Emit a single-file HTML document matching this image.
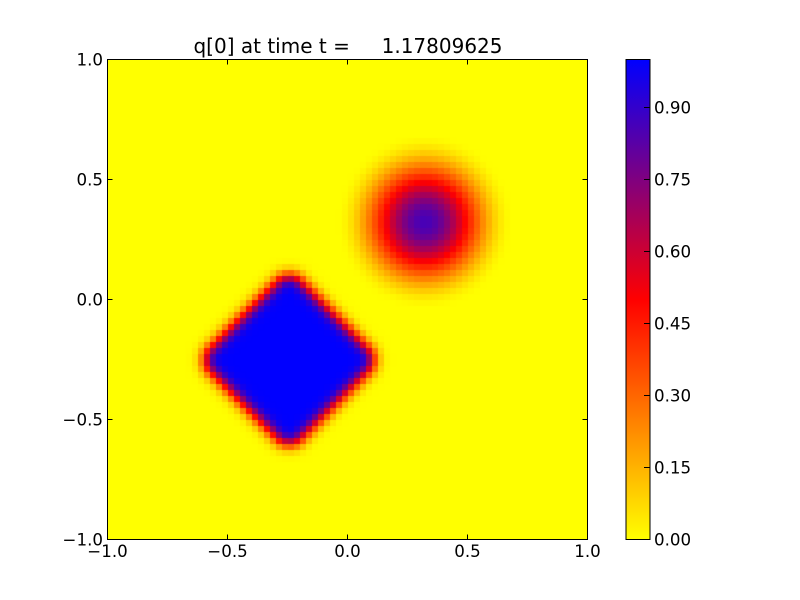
<!DOCTYPE html>
<html>
<head>
<meta charset="utf-8">
<style>
  html, body { margin: 0; padding: 0; background: #ffffff; }
  #wrap { position: relative; width: 800px; height: 600px; overflow: hidden; background: #ffffff; }
  #fallback, #overlay { position: absolute; left: 0; top: 0; }
  #c { position: absolute; left: 108px; top: 60px; width: 480px; height: 480px; }
  text { font-family: "DejaVu Sans", "Liberation Sans", sans-serif; fill: #000; }
</style>
</head>
<body>
<div id="wrap">
  <svg id="fallback" width="800" height="600" viewBox="0 0 800 600">
    <defs>
      <radialGradient id="bump" cx="424.5" cy="221.5" r="88" gradientUnits="userSpaceOnUse">
        <stop offset="0" stop-color="#3d00c2"/>
        <stop offset="0.2" stop-color="#7a0085"/>
        <stop offset="0.42" stop-color="#ff0000"/>
        <stop offset="0.65" stop-color="#ff7000"/>
        <stop offset="0.88" stop-color="#ffd800"/>
        <stop offset="1" stop-color="#ffff00"/>
      </radialGradient>
    </defs>
    <rect x="108" y="60" width="480" height="480" fill="#ffff00"/>
    <circle cx="424.5" cy="221.5" r="88" fill="url(#bump)"/>
    <g transform="translate(288.5,359.5) rotate(45)">
      <rect x="-64" y="-64" width="128" height="128" rx="18" ry="18" fill="#0000ff" stroke="#ff2000" stroke-width="8"/>
    </g>
  </svg>

  <canvas id="c" width="480" height="480"></canvas>

  <svg id="overlay" width="800" height="600" viewBox="0 0 800 600">
    <defs>
      <linearGradient id="cbar" x1="0" y1="1" x2="0" y2="0">
        <stop offset="0" stop-color="#ffff00"/>
        <stop offset="0.5" stop-color="#ff0000"/>
        <stop offset="1" stop-color="#0000ff"/>
      </linearGradient>
    </defs>

    <text x="348" y="53" font-size="20" text-anchor="middle" style="white-space:pre" xml:space="preserve">q[0] at time t =     1.17809625</text>

    <rect x="107.5" y="59.5" width="480" height="480" fill="none" stroke="#000" stroke-width="1"/>

    <g stroke="#000" stroke-width="1">
      <line x1="107.5" y1="539.5" x2="107.5" y2="534.5"/>
      <line x1="227.5" y1="539.5" x2="227.5" y2="534.5"/>
      <line x1="347.5" y1="539.5" x2="347.5" y2="534.5"/>
      <line x1="467.5" y1="539.5" x2="467.5" y2="534.5"/>
      <line x1="587.5" y1="539.5" x2="587.5" y2="534.5"/>
      <line x1="107.5" y1="59.5" x2="107.5" y2="64.5"/>
      <line x1="227.5" y1="59.5" x2="227.5" y2="64.5"/>
      <line x1="347.5" y1="59.5" x2="347.5" y2="64.5"/>
      <line x1="467.5" y1="59.5" x2="467.5" y2="64.5"/>
      <line x1="587.5" y1="59.5" x2="587.5" y2="64.5"/>
      <line x1="107.5" y1="59.5" x2="112.5" y2="59.5"/>
      <line x1="107.5" y1="179.5" x2="112.5" y2="179.5"/>
      <line x1="107.5" y1="299.5" x2="112.5" y2="299.5"/>
      <line x1="107.5" y1="419.5" x2="112.5" y2="419.5"/>
      <line x1="107.5" y1="539.5" x2="112.5" y2="539.5"/>
      <line x1="587.5" y1="59.5" x2="582.5" y2="59.5"/>
      <line x1="587.5" y1="179.5" x2="582.5" y2="179.5"/>
      <line x1="587.5" y1="299.5" x2="582.5" y2="299.5"/>
      <line x1="587.5" y1="419.5" x2="582.5" y2="419.5"/>
      <line x1="587.5" y1="539.5" x2="582.5" y2="539.5"/>
    </g>

    <g font-size="16.67" text-anchor="middle">
      <text x="107.5" y="557">−1.0</text>
      <text x="227.5" y="557">−0.5</text>
      <text x="347.5" y="557">0.0</text>
      <text x="467.5" y="557">0.5</text>
      <text x="587.5" y="557">1.0</text>
    </g>
    <g font-size="16.67" text-anchor="end">
      <text x="103" y="65.5">1.0</text>
      <text x="103" y="185.5">0.5</text>
      <text x="103" y="305.5">0.0</text>
      <text x="103" y="425.5">−0.5</text>
      <text x="103" y="545.5">−1.0</text>
    </g>

    <rect x="626" y="59.5" width="24" height="480" fill="url(#cbar)" stroke="#000" stroke-width="1"/>
    <g stroke="#000" stroke-width="1">
      <line x1="644" y1="539.5" x2="650" y2="539.5"/>
      <line x1="644" y1="467.5" x2="650" y2="467.5"/>
      <line x1="644" y1="395.5" x2="650" y2="395.5"/>
      <line x1="644" y1="323.5" x2="650" y2="323.5"/>
      <line x1="644" y1="251.5" x2="650" y2="251.5"/>
      <line x1="644" y1="179.5" x2="650" y2="179.5"/>
      <line x1="644" y1="107.5" x2="650" y2="107.5"/>
    </g>
    <g font-size="16.67" text-anchor="start">
      <text x="654" y="545.5">0.00</text>
      <text x="654" y="473.5">0.15</text>
      <text x="654" y="401.5">0.30</text>
      <text x="654" y="329.5">0.45</text>
      <text x="654" y="257.5">0.60</text>
      <text x="654" y="185.5">0.75</text>
      <text x="654" y="113.5">0.90</text>
    </g>
  </svg>
</div>

<script>
(function(){
  var c = document.getElementById('c');
  if (!c || !c.getContext) return;
  var ctx = c.getContext('2d');
  function cmap(v){
    v = Math.max(0, Math.min(1, v));
    var r, g, b;
    if (v < 0.5) { r = 1; g = 1 - 2*v; b = 0; }
    else { r = 2 - 2*v; g = 0; b = 2*v - 1; }
    return 'rgb(' + Math.round(r*255) + ',' + Math.round(g*255) + ',' + Math.round(b*255) + ')';
  }
  function erf(x){
    var s = x < 0 ? -1 : 1; x = Math.abs(x);
    var t = 1/(1 + 0.3275911*x);
    var y = 1 - (((((1.061405429*t - 1.453152027)*t) + 1.421413741)*t - 0.284496736)*t + 0.254829592)*t*Math.exp(-x*x);
    return s*y;
  }
  var cx = -0.245, cy = -0.25, a = 0.267, rc = 0.07, sw = 0.04;
  var bx = 0.32, by = 0.325, R = 0.37, P = 0.86;
  for (var i = 0; i < 80; i++) {
    for (var j = 0; j < 80; j++) {
      var x = -1 + (i + 0.5)*0.025;
      var y = 1 - (j + 0.5)*0.025;
      var dx = x - cx, dy = y - cy;
      var u = Math.abs((dx + dy)/Math.SQRT2);
      var w = Math.abs((dy - dx)/Math.SQRT2);
      var qx = u - (a - rc), qy = w - (a - rc);
      var sd = Math.sqrt(Math.pow(Math.max(qx,0),2) + Math.pow(Math.max(qy,0),2)) + Math.min(Math.max(qx,qy),0) - rc;
      var q = 0.5*(1 - erf(sd/sw));
      var r = Math.sqrt((x-bx)*(x-bx) + (y-by)*(y-by));
      if (r < R) q += P*0.5*(1 + Math.cos(Math.PI*r/R));
      ctx.fillStyle = cmap(q);
      ctx.fillRect(i*6, j*6, 6, 6);
    }
  }
})();
</script>
</body>
</html>
